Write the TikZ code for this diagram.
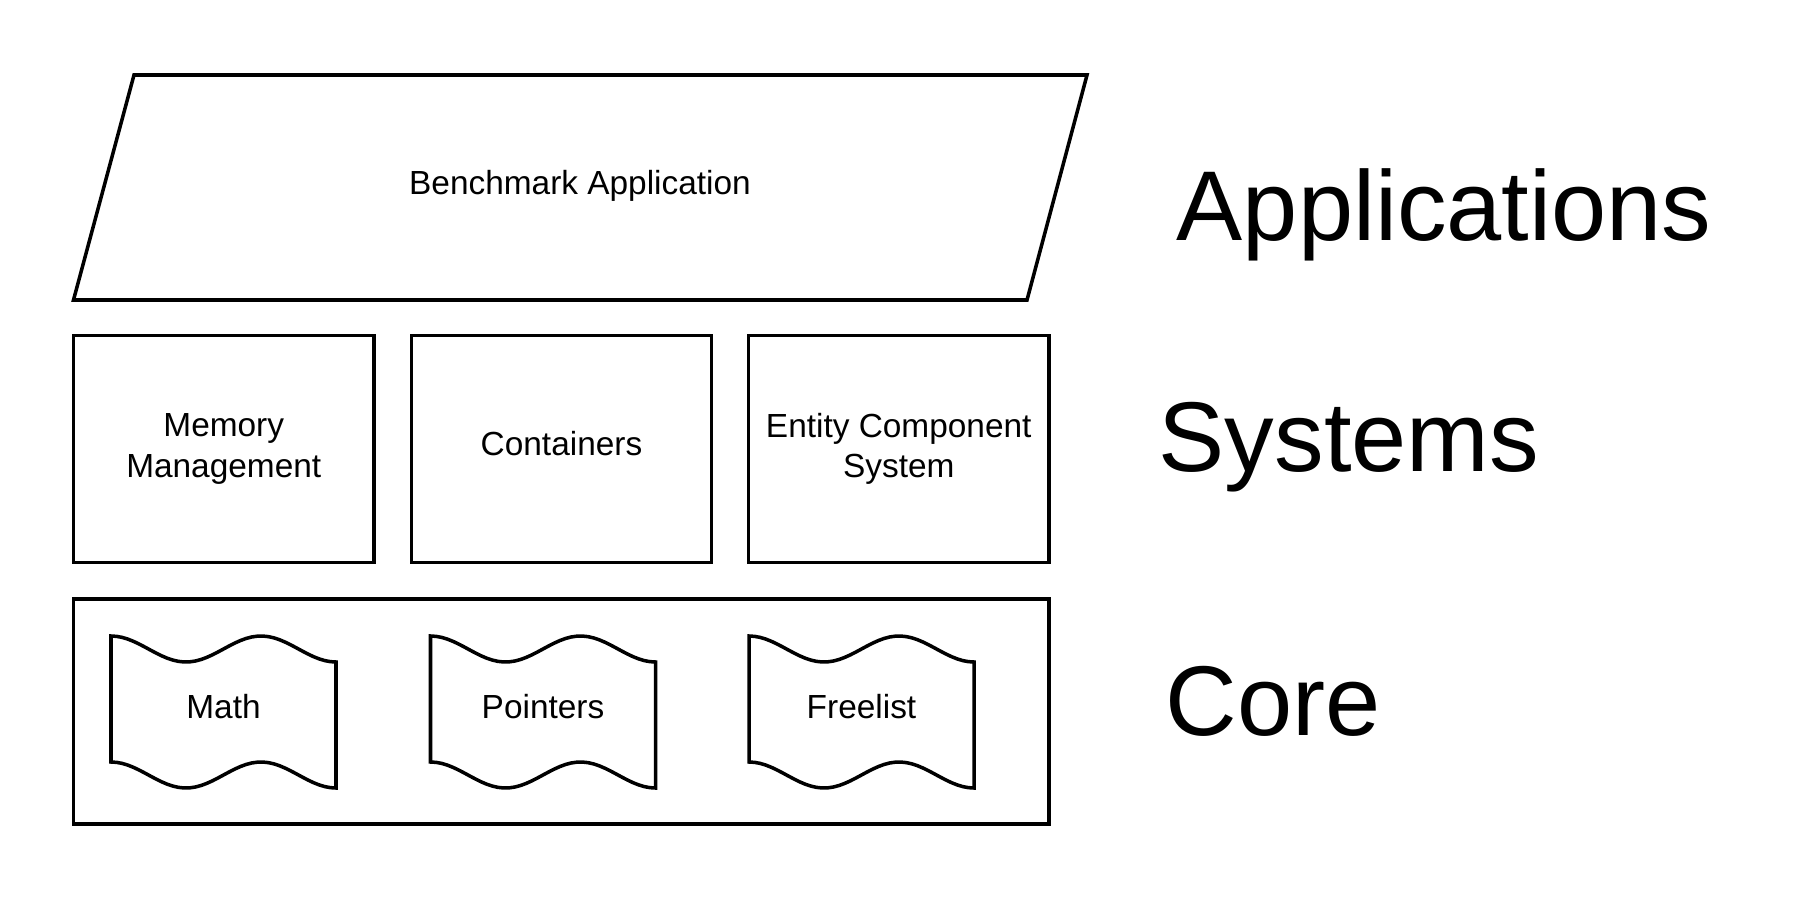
\documentclass[tikz,border=0pt]{standalone}
\usepackage{fontspec}
\setmainfont{Liberation Sans}
\tikzset{
  unitbox/.style={draw, line width=1pt, minimum width=3cm, minimum height=2.265cm, align=center, font=\fontsize{9.5}{11.4}\selectfont},
  smalltext/.style={align=center, font=\fontsize{9.5}{11.4}\selectfont},
  layertext/.style={anchor=base west, inner sep=0pt, font=\fontsize{28.2}{34}\selectfont}
}
% tape shape: left x, top y
\newcommand{\tapebox}[2]{%
\draw plot[domain=0:225,samples=41] ({#1+\x},{#2+13-13*cos(2.4*\x)}) -- plot[domain=225:0,samples=41] ({#1+\x},{#2+139-13*cos(2.4*\x)}) -- cycle;}
\begin{document}
\begin{tikzpicture}[x=0.01cm,y=-0.01cm,line width=1pt]
\useasboundingbox (0,0) rectangle (1800,900);
\draw (134,75) -- (1087,75) -- (1027,300) -- (73.5,300) -- cycle;
\node[smalltext] (bench) at (580,186) {Benchmark Application};
\node[unitbox] (mem) at (223.75,449) {Memory\\Management};
\node[unitbox] (cont) at (561.5,449) {};
\node[smalltext] (contl) at (561.5,444) {Containers};
\node[unitbox] (ecs) at (898.75,449) {Entity Component\\System};
\draw (73.5,599) rectangle (1049,824);
\tapebox{111}{636}
\tapebox{430.5}{636}
\tapebox{749}{636}
\node[smalltext] (math) at (223.5,707) {Math};
\node[smalltext] (ptr) at (543,707) {Pointers};
\node[smalltext] (flist) at (861.5,707) {Freelist};
\node[layertext] (lapp) at (1175,240) {Applications};
\node[layertext] (lsys) at (1157,471) {Systems};
\node[layertext] (lcore) at (1164,735) {Core};
\end{tikzpicture}
\end{document}
